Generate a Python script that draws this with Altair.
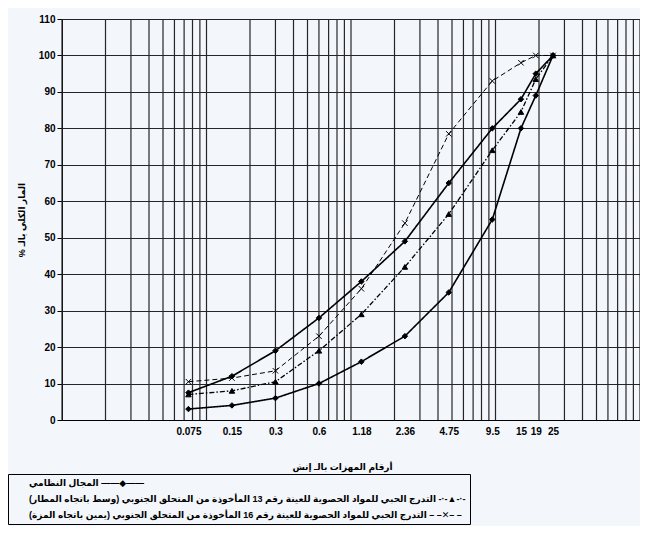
import altair as alt
import pandas as pd

# ---------------- data ----------------
sieve_sizes = [0.075, 0.15, 0.3, 0.6, 1.18, 2.36, 4.75, 9.5, 15, 19, 25]
spec_lower = [3, 4, 6, 10, 16, 23, 35, 55, 80, 89, 100]
spec_upper = [7.5, 12, 19, 28, 38, 49, 65, 80, 88, 95, 100]
sample13 = [7, 8, 10.5, 19, 29, 42, 56.5, 74, 84.5, 93.5, 100]
sample16 = [10.5, 11.5, 13.5, 23, 36, 54, 78.5, 93, 98, 100, 100]

spec_name = "المجال النظامي"
s13_name = "التدرج الحبي للمواد الحصوية للعينة رقم 13 المأخوذة من المتحلق الجنوبي (وسط باتجاه المطار)"
s16_name = "التدرج الحبي للمواد الحصوية للعينة رقم 16 المأخوذة من المتحلق الجنوبي (يمين باتجاه المزة)"
series_names = [spec_name, s13_name, s16_name]
# legend keys (line style + marker) written after each label, as in the original
legend_keys = ["——◆——", "-·-▲-·-", "– –✕– –"]

y_ticks = [0, 10, 20, 30, 40, 50, 60, 70, 80, 90, 100, 110]
x_grid = [0.01, 0.02, 0.03, 0.04, 0.05, 0.06, 0.07, 0.08, 0.09,
          0.1, 0.2, 0.3, 0.4, 0.5, 0.6, 0.7, 0.8, 0.9,
          1, 2, 3, 4, 5, 6, 7, 8, 9,
          10, 20, 30, 40, 50, 60, 70, 80, 90, 100]

RLM = "\u200f"
x_title = "أرقام المهزات بالـ إنش"
y_title = "المار الكلي بالـ %" + RLM

# ---------------- tables ----------------
rows = []
for line_id, name, vals in [("lower", spec_name, spec_lower),
                            ("upper", spec_name, spec_upper),
                            ("s13", s13_name, sample13),
                            ("s16", s16_name, sample16)]:
    for s, v in zip(sieve_sizes, vals):
        rows.append({"size": s, "pass": v, "series": name, "line": line_id})
df = pd.DataFrame(rows)
grid_df = pd.DataFrame({"size": x_grid})
legend_df = pd.DataFrame({"lg": series_names})

BG = "#f3f6fb"
GRID = "#262626"
FONT = "Liberation Sans, DejaVu Sans"

xscale = alt.Scale(type="log", domain=[0.01, 100], nice=False)
yscale = alt.Scale(domain=[0, 110], nice=False)

x_axis = alt.Axis(values=sieve_sizes, format="~g", grid=False, ticks=False,
                  domain=True, domainColor="black", labelPadding=6,
                  labelFont=FONT, labelFontSize=10, labelFontWeight="bold",
                  labelColor="black", labelFlush=False, labelOverlap=False,
                  title=x_title, titleFont=FONT, titleFontSize=9,
                  titleFontWeight="bold", titleColor="black", titlePadding=26,
                  titleX=280)
y_axis = alt.Axis(values=y_ticks, grid=True, gridColor=GRID, gridOpacity=1,
                  gridWidth=1.2,
                  ticks=True, tickSize=5, tickColor="black", domainColor="black",
                  labelPadding=2, labelFont=FONT, labelFontSize=10,
                  labelFontWeight="bold", labelColor="black",
                  title=y_title, titleFont=FONT, titleFontSize=9,
                  titleFontWeight="bold", titleColor="black", titlePadding=12)

X = alt.X("size:Q", scale=xscale, axis=x_axis)
Y = alt.Y("pass:Q", scale=yscale, axis=y_axis)

rules = alt.Chart(grid_df).mark_rule(color=GRID, strokeWidth=1.2).encode(x=X)

lines = alt.Chart(df).mark_line(color="black").encode(
    x=X, y=Y,
    detail="line:N",
    strokeDash=alt.StrokeDash("series:N", legend=None,
                              scale=alt.Scale(domain=series_names,
                                              range=[[1, 0], [5, 2, 1.5, 2], [5, 3]])),
    strokeWidth=alt.StrokeWidth("series:N", legend=None,
                                scale=alt.Scale(domain=series_names, range=[1.6, 1, 1])),
)

points = alt.Chart(df).mark_point(fill="black", stroke="black", strokeWidth=1,
                                  opacity=1, size=30).encode(
    x=X, y=Y,
    shape=alt.Shape("series:N", legend=None,
                    scale=alt.Scale(domain=series_names,
                                    range=["diamond", "triangle-up",
                                           "M-1,-1L1,1M-1,1L1,-1"])),
)

label_expr = (
    "datum.label + '" + RLM + " ' + "
    "(datum.label == '" + spec_name + "' ? '" + legend_keys[0] + "' : "
    "(datum.label == '" + s13_name + "' ? '" + legend_keys[1] + "' : '"
    + legend_keys[2] + "'))"
)

legend_layer = alt.Chart(legend_df).transform_filter("false").mark_point(
    fill="black", opacity=1, filled=True
).encode(
    shape=alt.Shape("lg:N",
                    scale=alt.Scale(domain=series_names,
                                    range=["circle", "circle", "circle"]),
                    legend=alt.Legend(orient="none", legendX=-54, legendY=455,
                                      title=None, strokeColor="black",
                                      fillColor=BG, padding=4, rowPadding=6,
                                      labelFont=FONT, labelFontSize=9,
                                      labelFontWeight="bold", labelColor="black",
                                      labelLimit=900, labelOffset=8,
                                      labelExpr=label_expr,
                                      symbolSize=1, symbolOpacity=0)),
)

chart = alt.layer(rules, lines, points, legend_layer).resolve_scale(
    shape="independent"
).properties(
    width=578, height=401,
    autosize=alt.AutoSizeParams(type="none"),
    padding={"left": 54, "top": 11, "right": 0, "bottom": 106},
    background=BG,
).configure_view(stroke=GRID, fill=BG)

chart.save("out.html", embed_options={"renderer": "svg", "actions": False})
